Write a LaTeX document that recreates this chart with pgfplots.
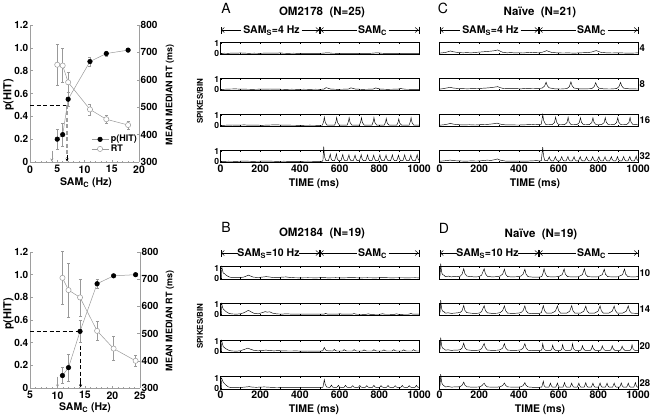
\documentclass[border=0pt]{standalone}
\usepackage{fontspec}
\setmainfont{TeX Gyre Heros}
\usepackage{pgfplots}
\pgfplotsset{compat=1.18}
\usetikzlibrary{arrows.meta}
\definecolor{axg}{gray}{0.62}
\definecolor{lng}{gray}{0.6}
\newcommand{\tfont}{\bfseries\fontsize{10.5}{11}\selectfont}
\tikzset{rlab/.style={anchor=west, font=\bfseries\fontsize{9.5}{10}\selectfont, inner sep=1.5pt}}
\pgfplotsset{
 strip/.style={scale only axis, width=198.5pt, height=12.6pt, xmin=0, xmax=1000, ymin=-0.1, ymax=1.17,
   clip=false, xtick={0,100,...,1000}, xticklabels={}, ytick={0,1}, tick align=inside,
   major tick length=1.8pt, tick style={black,line width=0.4pt}, axis line style={line width=0.5pt},
   yticklabel style={font=\bfseries\fontsize{8.5}{9}\selectfont, inner sep=1.2pt},
   ytick pos=left, xtick pos=both, /pgf/number format/assume math mode=true},
 striplast/.style={xticklabels={0,,200,,400,,600,,800,,1000}, xticklabel style={font=\tfont, inner sep=2pt}},
 nolab/.style={ytick=\empty},
 trace/.style={black, line width=0.45pt, mark=none},
 lp/.style={scale only axis, width=109pt, height=137pt, clip=false, axis line style={axg, -, line width=0.6pt},
   tick style={axg, line width=0.5pt}, tick align=inside, major tick length=2.5pt, minor tick length=1.5pt,
   ticklabel style={font=\tfont}, yticklabel style={font=\bfseries\fontsize{10}{10}\selectfont, inner sep=1.5pt},
   /pgf/number format/assume math mode=true},
 hit/.style={lng, line width=0.5pt, mark=*, mark size=2.3pt, mark options={fill=black, draw=black, solid}},
 rt/.style={lng, line width=0.5pt, mark=*, mark size=2.6pt, mark options={fill=white, draw=lng, solid}},
}
\newcommand{\samrow}[6]{%
\begin{scope}[shift={(#1pt,-#2pt)}, line width=0.5pt]
\draw[{Bar[width=7pt]Straight Barb[length=3pt,width=5pt]}-] (0pt,0pt) -- (#5pt,0pt);
\node[anchor=base, inner sep=0pt, font=\bfseries\fontsize{10.5}{11}\selectfont] at (#4pt,-3.7pt) {SAM\textsubscript{S}=#3};
\draw[-{Straight Barb[length=3pt,width=5pt]Bar[width=7pt]}] (#6pt,0pt) -- (99.25pt,0pt);
\draw[{Bar[width=7pt]Straight Barb[length=3pt,width=5pt]}-] (99.25pt,0pt) -- (136pt,0pt);
\node[anchor=base, inner sep=0pt, font=\bfseries\fontsize{10.5}{11}\selectfont] at (152pt,-3.7pt) {SAM\textsubscript{C}};
\draw[-{Straight Barb[length=3pt,width=5pt]Bar[width=7pt]}] (168pt,0pt) -- (198.5pt,0pt);
\end{scope}}
\begin{document}
\begin{tikzpicture}
% ================= LEFT TOP =================
\begin{axis}[lp, at={(30pt,-162pt)}, anchor=south west, xmin=0, xmax=20, ymin=0, ymax=1.2,
  axis x line*=bottom, axis y line*=left, xtick={0,5,10,15,20}, minor x tick num=4,
  ytick={0,0.2,0.4,0.6,0.8,1}, yticklabels={0,0.2,0.4,0.6,0.8,1.0}]
\addplot[black, line width=0.7pt, dash pattern=on 4pt off 2.5pt] coordinates {(0,0.5) (6.8,0.5)};
\addplot[axg, line width=1.4pt, dash pattern=on 4pt off 2.5pt] coordinates {(6.8,0.5) (6.8,0.04)};
\draw[-{Stealth[length=3pt,width=3pt]}, black, line width=0.4pt] (axis cs:6.8,0.06) -- (axis cs:6.8,0.005);
\draw[-{Stealth[length=3pt,width=3pt]}, lng, line width=0.5pt] (axis cs:4,0.1) -- (axis cs:4,0.005);
\addplot[hit, error bars/.cd, y dir=both, y explicit, error bar style={lng, line width=0.5pt}, error mark options={rotate=90, mark size=1.5pt, lng}]
 coordinates {(5,0.20) +- (0,0.09) (6,0.24) +- (0,0.1) (7,0.55) +- (0,0.06) (11,0.88) +- (0,0.04) (14,0.95) +- (0,0.02) (18,0.98) +- (0,0.01)};
\end{axis}
\begin{axis}[lp, at={(30pt,-162pt)}, anchor=south west, xmin=0, xmax=20, ymin=300, ymax=800,
  axis x line=none, axis y line*=right, ytick={300,400,...,800},
  legend style={at={(1,0.05)}, anchor=south east, draw=none, fill=none, font=\bfseries\fontsize{9}{9}\selectfont, inner sep=0pt, row sep=-2.5pt, legend cell align=left},
  legend image code/.code={\draw[mark repeat=2,mark phase=2,#1] plot coordinates {(0pt,0pt) (8.5pt,0pt) (17pt,0pt)};}]
\addlegendimage{hit}
\addlegendentry{p(HIT)}
\addplot[rt, error bars/.cd, y dir=both, y explicit, error bar style={lng, line width=0.5pt}, error mark options={rotate=90, mark size=1.5pt, lng}]
 coordinates {(5,655) +- (0,74) (6,652) +- (0,62) (7,591) +- (0,35) (11,492) +- (0,20) (14,456) +- (0,14) (18,435) +- (0,14)};
\addlegendentry{RT}
\end{axis}
\node[rotate=90, font=\bfseries\fontsize{11}{11}\selectfont] at (8.5pt,-95pt) {p(HIT)};
\node[rotate=90, font=\bfseries\fontsize{9}{9}\selectfont] at (170pt,-95pt) {MEAN MEDIAN RT (ms)};
\node[font=\bfseries\fontsize{10.5}{11}\selectfont] at (86pt,-183pt) {SAM\textsubscript{C} (Hz)};
\draw[axg, line width=0.5pt] (30pt,-25pt) -- (32.5pt,-25pt);
\node[anchor=east, inner sep=1.5pt, font=\bfseries\fontsize{10}{10}\selectfont] at (30pt,-25pt) {1.2};
% ================= LEFT BOTTOM =================
\begin{axis}[lp, at={(30pt,-388pt)}, anchor=south west, height=136pt, width=110pt, xmin=5, xmax=25, ymin=0, ymax=1.2001,
  axis x line*=bottom, axis y line*=left, xtick={5,10,15,20,25}, minor x tick num=4,
  ytick={0,0.2,0.4,0.6,0.8,1,1.2}, yticklabels={0,0.2,0.4,0.6,0.8,1.0,1.2}]
\addplot[black, line width=0.7pt, dash pattern=on 4pt off 2.5pt] coordinates {(5,0.5) (14.2,0.5) (14.2,0.04)};
\draw[-{Stealth[length=3pt,width=3pt]}, black, line width=0.4pt] (axis cs:14.2,0.06) -- (axis cs:14.2,0.005);
\draw[-{Stealth[length=3pt,width=3pt]}, lng, line width=0.5pt] (axis cs:10,0.1) -- (axis cs:10,0.005);
\addplot[hit, error bars/.cd, y dir=both, y explicit, error bar style={lng, line width=0.5pt}, error mark options={rotate=90, mark size=1.5pt, lng}]
 coordinates {(10.9,0.11) +- (0,0.07) (12,0.18) +- (0,0.12) (14.1,0.50) +- (0,0.1) (17.2,0.92) +- (0,0.04) (20.2,0.99) +- (0,0.01) (24.2,1.0) +- (0,0.01)};
\end{axis}
\begin{axis}[lp, at={(30pt,-388pt)}, anchor=south west, height=136pt, width=110pt, xmin=5, xmax=25, ymin=300, ymax=800,
  axis x line=none, axis y line*=right, ytick={300,400,...,800}]
\addplot[rt, error bars/.cd, y dir=both, y explicit, error bar style={lng, line width=0.5pt}, error mark options={rotate=90, mark size=1.5pt, lng}]
 coordinates {(10.9,705) +- (0,97) (12,660) +- (0,100) (14.1,633) +- (0,68) (17.2,510) +- (0,35) (20.2,445) +- (0,44) (24.2,400) +- (0,20)};
\end{axis}
\node[rotate=90, font=\bfseries\fontsize{11}{11}\selectfont] at (8.5pt,-314pt) {p(HIT)};
\node[rotate=90, font=\bfseries\fontsize{9}{9}\selectfont] at (170pt,-321pt) {MEAN MEDIAN RT (ms)};
\node[font=\bfseries\fontsize{10.5}{11}\selectfont] at (85pt,-408pt) {SAM\textsubscript{C} (Hz)};
% ================= PANEL A =================
\node[font=\fontsize{14}{14}\selectfont] at (226pt,-8pt) {A};
\node[font=\bfseries\fontsize{11.5}{12}\selectfont] at (322pt,-12pt) {OM2178~~(N=25)};
\samrow{220.5}{30}{4 Hz}{51}{20}{81}
\node[rotate=90, font=\bfseries\fontsize{8}{8}\selectfont] at (200pt,-101pt) {SPIKES/BIN};
\begin{axis}[strip, at={(220.5pt,-42pt)}, anchor=north west]
\addplot[trace] coordinates {(0,0.02)(20,0.04)(40,0.03)(60,0.05)(80,0.04)(100,0.07)(115,0.05)(140,0.03)(170,0.04)(200,0.03)(230,0.05)(260,0.04)(290,0.05)(300,0.08)(312,0.04)(340,0.03)(370,0.04)(400,0.02)(430,0.03)(460,0.02)(490,0.03)(515,0.04)(530,0.07)(545,0.08)(560,0.04)(590,0.03)(620,0.02)(650,0.03)(680,0.02)(710,0.03)(740,0.02)(765,0.04)(780,0.07)(795,0.08)(810,0.04)(840,0.02)(870,0.03)(900,0.02)(930,0.03)(960,0.02)(1000,0.03)};
\end{axis}
\begin{axis}[strip, at={(220.5pt,-78pt)}, anchor=north west]
\addplot[trace] coordinates {(0,0.02)(25,0.04)(50,0.06)(75,0.07)(100,0.05)(130,0.04)(160,0.03)(190,0.04)(220,0.05)(250,0.06)(275,0.05)(300,0.04)(330,0.03)(360,0.04)(390,0.03)(420,0.04)(450,0.03)(480,0.04)(505,0.03)(522,0.06)(532,0.2)(540,0.15)(555,0.05)(590,0.03)(620,0.04)(645,0.06)(657,0.18)(666,0.13)(680,0.05)(715,0.03)(745,0.04)(770,0.06)(782,0.17)(791,0.12)(805,0.05)(840,0.03)(870,0.04)(895,0.05)(907,0.12)(916,0.08)(930,0.04)(965,0.03)(1000,0.03)};
\end{axis}
\begin{axis}[strip, at={(220.5pt,-114pt)}, anchor=north west]
\addplot[trace] coordinates {(0,0.02)(30,0.04)(60,0.06)(90,0.05)(120,0.07)(150,0.04)(180,0.05)(210,0.03)(250,0.06)(280,0.08)(310,0.05)(350,0.04)(400,0.03)(450,0.04)(500,0.03)
(513,0.04)(520,0.45)(523,0.85)(528,0.3)(537,0.05)
(575,0.04)(582,0.45)(585,0.82)(590,0.3)(599,0.05)
(638,0.04)(645,0.45)(648,0.8)(653,0.3)(662,0.05)
(700,0.04)(707,0.45)(710,0.8)(715,0.3)(724,0.05)
(763,0.04)(770,0.45)(773,0.82)(778,0.3)(787,0.05)
(825,0.04)(832,0.4)(835,0.72)(840,0.25)(849,0.05)
(888,0.04)(895,0.38)(898,0.68)(903,0.25)(912,0.05)
(950,0.04)(957,0.45)(960,0.8)(965,0.3)(974,0.05)(1000,0.04)};
\end{axis}
\begin{axis}[strip, striplast, at={(220.5pt,-150pt)}, anchor=north west]
\addplot[trace] coordinates {(0,0.02)(40,0.04)(80,0.03)(120,0.05)(160,0.03)(200,0.04)(240,0.05)(280,0.03)(320,0.04)(360,0.02)(400,0.03)(440,0.04)(480,0.03)(512,0.03)
(516,0.1)(520,1.5)(524,0.5)(531,0.1)
(544,0.1)(553,0.75)(557,0.3)(563,0.1)
(575,0.1)(584,0.78)(588,0.3)(594,0.1)
(607,0.1)(616,0.72)(620,0.3)(626,0.1)
(638,0.1)(647,0.68)(651,0.3)(657,0.1)
(669,0.1)(678,0.65)(682,0.3)(688,0.1)
(700,0.1)(709,0.7)(713,0.3)(719,0.1)
(732,0.1)(741,0.68)(745,0.3)(751,0.1)
(763,0.1)(772,0.65)(776,0.3)(782,0.1)
(794,0.1)(803,0.68)(807,0.3)(813,0.1)
(825,0.1)(834,0.66)(838,0.3)(844,0.1)
(857,0.1)(866,0.68)(870,0.3)(876,0.1)
(888,0.1)(897,0.65)(901,0.3)(907,0.1)
(919,0.1)(928,0.68)(932,0.3)(938,0.1)
(950,0.1)(959,0.66)(963,0.3)(969,0.1)
(982,0.1)(991,0.7)(995,0.3)(1000,0.12)};
\end{axis}
\node[font=\tfont] at (314pt,-184pt) {TIME (ms)};
% ================= PANEL C =================
\node[font=\fontsize{14}{14}\selectfont] at (443pt,-8pt) {C};
\node[font=\bfseries\fontsize{11.5}{12}\selectfont] at (540pt,-12pt) {Naïve~~(N=21)};
\samrow{439.5}{30}{4 Hz}{51}{20}{81}
\begin{axis}[strip, nolab, at={(439.5pt,-42pt)}, anchor=north west]
\addplot[trace] coordinates {(0,0.05)(15,0.08)(30,0.12)(45,0.2)(55,0.27)(65,0.2)(80,0.15)(100,0.1)(120,0.08)(140,0.1)(160,0.07)(180,0.12)(200,0.15)(220,0.18)(240,0.22)(260,0.25)(280,0.3)(293,0.37)(305,0.25)(320,0.12)(340,0.08)(360,0.1)(380,0.07)(400,0.09)(420,0.06)(440,0.1)(460,0.12)(480,0.1)(500,0.08)(515,0.12)(530,0.22)(540,0.3)(550,0.22)(565,0.12)(590,0.08)(620,0.06)(650,0.07)(680,0.05)(710,0.08)(740,0.1)(765,0.15)(780,0.25)(790,0.3)(800,0.22)(815,0.12)(840,0.08)(870,0.06)(900,0.08)(930,0.06)(960,0.05)(1000,0.07)};
\node[rlab] at (rel axis cs:1,0.5) {4};
\end{axis}
\begin{axis}[strip, nolab, at={(439.5pt,-78pt)}, anchor=north west]
\addplot[trace] coordinates {(0,0.05)(20,0.1)(40,0.18)(55,0.22)(70,0.16)(90,0.12)(110,0.1)(140,0.08)(170,0.1)(200,0.12)(230,0.15)(260,0.2)(280,0.26)(293,0.3)(305,0.2)(320,0.12)(350,0.09)(380,0.1)(410,0.08)(440,0.12)(470,0.14)(500,0.12)
(517,0.15)(529,0.35)(537,0.75)(543,0.4)(552,0.18)(580,0.08)(610,0.06)(642,0.1)(654,0.3)(662,0.78)(668,0.4)(677,0.16)(705,0.08)(735,0.07)(767,0.1)(779,0.3)(787,0.7)(793,0.38)(802,0.15)(830,0.07)(860,0.06)(892,0.1)(904,0.3)(912,0.72)(918,0.38)(927,0.15)(955,0.08)(1000,0.06)};
\node[rlab] at (rel axis cs:1,0.5) {8};
\end{axis}
\begin{axis}[strip, nolab, at={(439.5pt,-114pt)}, anchor=north west]
\addplot[trace] coordinates {(0,0.04)(20,0.08)(40,0.15)(55,0.22)(70,0.15)(90,0.1)(120,0.07)(150,0.09)(180,0.06)(210,0.1)(240,0.12)(270,0.18)(290,0.25)(305,0.15)(330,0.08)(360,0.07)(400,0.06)(440,0.09)(470,0.12)(500,0.1)
(513,0.15)(520,1.1)(525,0.5)(535,0.12)
(567,0.1)(579,0.3)(585,0.85)(590,0.35)(599,0.12)
(630,0.1)(642,0.3)(648,0.85)(653,0.35)(662,0.12)
(692,0.1)(704,0.3)(710,0.8)(715,0.35)(724,0.12)
(755,0.1)(767,0.3)(773,0.78)(778,0.35)(787,0.12)
(817,0.1)(829,0.3)(835,0.8)(840,0.35)(849,0.12)
(880,0.1)(892,0.3)(898,0.8)(903,0.35)(912,0.12)
(942,0.1)(954,0.3)(960,0.82)(965,0.35)(974,0.12)(1000,0.08)};
\node[rlab] at (rel axis cs:1,0.5) {16};
\end{axis}
\begin{axis}[strip, nolab, striplast, at={(439.5pt,-150pt)}, anchor=north west]
\addplot[trace] coordinates {(0,0.04)(20,0.07)(40,0.12)(55,0.15)(70,0.1)(100,0.07)(130,0.05)(160,0.07)(190,0.06)(220,0.1)(240,0.15)(260,0.12)(280,0.2)(292,0.27)(305,0.15)(330,0.06)(360,0.05)(400,0.06)(440,0.05)(470,0.08)(490,0.1)(505,0.06)
(513,0.1)(520,1.45)(524,0.6)(530,0.12)
(544,0.08)(553,0.48)(557,0.22)(563,0.08)
(575,0.08)(584,0.5)(588,0.22)(594,0.08)
(607,0.08)(616,0.5)(620,0.22)(626,0.08)
(638,0.08)(647,0.52)(651,0.22)(657,0.08)
(669,0.08)(678,0.5)(682,0.22)(688,0.08)
(700,0.08)(709,0.5)(713,0.22)(719,0.08)
(732,0.08)(741,0.48)(745,0.22)(751,0.08)
(763,0.08)(772,0.5)(776,0.22)(782,0.08)
(794,0.08)(803,0.5)(807,0.22)(813,0.08)
(825,0.08)(834,0.48)(838,0.22)(844,0.08)
(857,0.08)(866,0.5)(870,0.22)(876,0.08)
(888,0.08)(897,0.5)(901,0.22)(907,0.08)
(919,0.08)(928,0.52)(932,0.22)(938,0.08)
(950,0.08)(959,0.52)(963,0.22)(969,0.08)
(982,0.08)(991,0.55)(995,0.22)(1000,0.1)};
\node[rlab] at (rel axis cs:1,0.5) {32};
\end{axis}
\node[font=\tfont] at (535pt,-184pt) {TIME (ms)};
% ================= PANEL B =================
\node[font=\fontsize{14}{14}\selectfont] at (226pt,-227pt) {B};
\node[font=\bfseries\fontsize{11.5}{12}\selectfont] at (322pt,-233pt) {OM2184~~(N=19)};
\samrow{220.5}{253}{10 Hz}{48}{17.5}{78.5}
\node[rotate=90, font=\bfseries\fontsize{8}{8}\selectfont] at (200pt,-326pt) {SPIKES/BIN};
\begin{axis}[strip, at={(220.5pt,-266.5pt)}, anchor=north west]
\addplot[trace] coordinates {(0,0.0)(4,0.05)(7,1.1)(10,0.8)(14,0.5)(20,0.45)(28,0.3)(40,0.15)(55,0.06)(80,0.04)(100,0.05)(120,0.12)(135,0.25)(142,0.3)(150,0.22)(165,0.1)(190,0.06)(210,0.1)(230,0.15)(245,0.12)(265,0.06)(290,0.05)(310,0.1)(330,0.12)(345,0.08)(370,0.04)(400,0.03)(440,0.04)(480,0.03)(520,0.05)(540,0.03)(580,0.04)(620,0.03)(660,0.05)(700,0.03)(740,0.04)(780,0.03)(820,0.05)(860,0.03)(900,0.04)(940,0.03)(980,0.04)(1000,0.03)};
\end{axis}
\begin{axis}[strip, at={(220.5pt,-303pt)}, anchor=north west]
\addplot[trace] coordinates {(0,0.0)(4,0.05)(7,1.05)(10,0.75)(14,0.55)(20,0.45)(28,0.3)(40,0.15)(55,0.07)(80,0.05)(100,0.08)(120,0.2)(135,0.38)(142,0.42)(152,0.3)(170,0.12)(190,0.08)(210,0.2)(225,0.3)(235,0.25)(248,0.28)(262,0.15)(285,0.07)(310,0.05)(330,0.08)(350,0.06)(380,0.04)(420,0.05)(460,0.04)(500,0.04)
(520,0.04)(530,0.12)(540,0.04)(591,0.04)(601,0.1)(611,0.04)(663,0.04)(673,0.11)(683,0.04)(734,0.03)(744,0.08)(754,0.03)(806,0.04)(816,0.09)(826,0.04)(877,0.03)(887,0.08)(897,0.03)(949,0.04)(959,0.12)(969,0.04)(1000,0.04)};
\end{axis}
\begin{axis}[strip, at={(220.5pt,-340pt)}, anchor=north west]
\addplot[trace] coordinates {(0,0.0)(4,0.05)(7,1.05)(10,0.75)(14,0.5)(20,0.4)(28,0.28)(40,0.15)(55,0.07)(80,0.05)(100,0.08)(120,0.22)(138,0.35)(150,0.25)(170,0.12)(190,0.08)(210,0.12)(230,0.15)(250,0.1)(270,0.08)(290,0.1)(320,0.07)(350,0.06)(380,0.07)(410,0.05)(440,0.06)(470,0.05)(505,0.06)
(515,0.08)(523,0.42)(530,0.15)(540,0.08)
(565,0.06)(573,0.22)(579,0.1)(587,0.06)
(615,0.06)(623,0.2)(629,0.1)(637,0.06)
(665,0.06)(673,0.2)(679,0.1)(687,0.06)
(715,0.06)(723,0.18)(729,0.1)(737,0.06)
(765,0.06)(773,0.2)(779,0.1)(787,0.06)
(815,0.06)(823,0.18)(829,0.1)(837,0.06)
(865,0.06)(873,0.2)(879,0.1)(887,0.06)
(915,0.06)(923,0.18)(929,0.1)(937,0.06)
(965,0.06)(973,0.2)(979,0.1)(987,0.06)(1000,0.06)};
\end{axis}
\begin{axis}[strip, striplast, at={(220.5pt,-376.5pt)}, anchor=north west]
\addplot[trace] coordinates {(0,0.0)(4,0.05)(7,0.95)(10,0.75)(14,0.6)(20,0.45)(28,0.3)(40,0.12)(55,0.05)(80,0.04)(110,0.08)(130,0.12)(145,0.15)(160,0.1)(180,0.08)(200,0.1)(220,0.12)(240,0.1)(260,0.07)(290,0.06)(320,0.05)(360,0.04)(400,0.04)(440,0.05)(480,0.04)(510,0.05)
(516,0.1)(523,0.85)(527,0.4)(535,0.1)
(551,0.07)(559,0.3)(564,0.12)(571,0.07)
(586,0.07)(594,0.28)(599,0.12)(606,0.07)
(622,0.07)(630,0.28)(635,0.12)(642,0.07)
(658,0.07)(666,0.25)(671,0.12)(678,0.07)
(694,0.07)(702,0.27)(707,0.12)(714,0.07)
(729,0.07)(737,0.25)(742,0.12)(749,0.07)
(765,0.07)(773,0.28)(778,0.12)(785,0.07)
(801,0.07)(809,0.25)(814,0.12)(821,0.07)
(836,0.07)(844,0.27)(849,0.12)(856,0.07)
(872,0.07)(880,0.25)(885,0.12)(892,0.07)
(908,0.07)(916,0.27)(921,0.12)(928,0.07)
(943,0.07)(951,0.25)(956,0.12)(963,0.07)
(979,0.07)(987,0.28)(992,0.12)(1000,0.07)};
\end{axis}
\node[font=\tfont] at (314pt,-410pt) {TIME (ms)};
% ================= PANEL D =================
\node[font=\fontsize{14}{14}\selectfont] at (444pt,-228pt) {D};
\node[font=\bfseries\fontsize{11.5}{12}\selectfont] at (541pt,-234pt) {Naïve~~(N=19)};
\samrow{439.5}{253}{10 Hz}{48}{17.5}{78.5}
\begin{axis}[strip, nolab, at={(439.5pt,-266.5pt)}, anchor=north west]
\addplot[trace] coordinates {(0,0.1)(3,0.3)(6,1.45)(9,0.9)(12,0.5)(16,0.35)(22,0.3)(30,0.15)(45,0.2)(60,0.12)(75,0.18)(90,0.15)(105,0.2)(114,0.4)(122,0.95)(128,0.45)(138,0.2)(160,0.15)(180,0.12)(200,0.15)(212,0.3)(225,0.95)(231,0.45)(241,0.18)(265,0.12)(290,0.15)(305,0.2)(318,0.4)(327,0.9)(333,0.4)(343,0.15)(370,0.12)(395,0.15)(410,0.2)(421,0.4)(430,0.9)(436,0.4)(446,0.15)(470,0.1)(500,0.1)(515,0.15)(520,0.4)(527,0.95)(533,0.45)(543,0.15)(570,0.12)(600,0.15)(618,0.35)(628,0.92)(634,0.4)(645,0.15)(670,0.12)(700,0.14)(720,0.35)(730,0.95)(736,0.4)(747,0.15)(775,0.12)(800,0.14)(820,0.35)(830,0.9)(836,0.4)(847,0.15)(875,0.12)(900,0.14)(922,0.35)(932,0.92)(938,0.4)(949,0.15)(975,0.12)(1000,0.15)};
\node[rlab] at (rel axis cs:1,0.5) {10};
\end{axis}
\begin{axis}[strip, nolab, at={(439.5pt,-303pt)}, anchor=north west]
\addplot[trace] coordinates {(0,0.1)(3,0.3)(6,1.45)(9,0.9)(12,0.5)(16,0.35)(22,0.3)(30,0.15)(45,0.18)(60,0.12)(75,0.15)(90,0.18)(105,0.22)(114,0.4)(122,0.92)(128,0.42)(138,0.2)(160,0.14)(180,0.12)(200,0.15)(212,0.3)(225,0.9)(231,0.42)(241,0.18)(265,0.12)(290,0.14)(305,0.2)(318,0.4)(327,0.88)(333,0.4)(343,0.15)(370,0.12)(395,0.15)(410,0.2)(421,0.4)(430,0.88)(436,0.4)(446,0.15)(470,0.1)(500,0.1)
(513,0.2)(523,0.9)(529,0.4)(539,0.15)(565,0.15)(584,0.35)(594,0.88)(600,0.4)(610,0.15)(640,0.14)(656,0.35)(666,0.9)(672,0.4)(682,0.15)(710,0.14)(727,0.35)(737,0.85)(743,0.4)(753,0.15)(780,0.14)(799,0.35)(809,0.88)(815,0.4)(825,0.15)(852,0.14)(870,0.35)(880,0.85)(886,0.4)(896,0.15)(922,0.14)(941,0.35)(951,0.88)(957,0.4)(967,0.15)(1000,0.12)};
\node[rlab] at (rel axis cs:1,0.5) {14};
\end{axis}
\begin{axis}[strip, nolab, at={(439.5pt,-340pt)}, anchor=north west]
\addplot[trace] coordinates {(0,0.1)(3,0.3)(6,1.4)(9,0.9)(12,0.5)(16,0.35)(22,0.28)(30,0.15)(45,0.18)(60,0.12)(75,0.15)(90,0.15)(105,0.2)(114,0.38)(122,0.85)(128,0.4)(138,0.18)(160,0.13)(180,0.12)(200,0.15)(212,0.3)(225,0.82)(231,0.4)(241,0.16)(265,0.12)(290,0.14)(305,0.18)(318,0.35)(327,0.8)(333,0.38)(343,0.15)(370,0.12)(395,0.14)(410,0.18)(421,0.35)(430,0.8)(436,0.38)(446,0.14)(470,0.1)(500,0.1)(512,0.12)
(516,0.25)(520,0.8)(525,0.3)(534,0.12)
(560,0.12)(566,0.28)(570,0.65)(575,0.3)(584,0.12)
(610,0.12)(616,0.28)(620,0.7)(625,0.3)(634,0.12)
(660,0.12)(666,0.28)(670,0.8)(675,0.3)(684,0.12)
(710,0.12)(716,0.28)(720,0.6)(725,0.3)(734,0.12)
(760,0.12)(766,0.28)(770,0.62)(775,0.3)(784,0.12)
(810,0.12)(816,0.28)(820,0.58)(825,0.3)(834,0.12)
(860,0.12)(866,0.28)(870,0.6)(875,0.3)(884,0.12)
(910,0.12)(916,0.28)(920,0.55)(925,0.3)(934,0.12)
(960,0.12)(966,0.28)(970,0.68)(975,0.3)(984,0.12)(1000,0.12)};
\node[rlab] at (rel axis cs:1,0.5) {20};
\end{axis}
\begin{axis}[strip, nolab, striplast, at={(439.5pt,-376.5pt)}, anchor=north west]
\addplot[trace] coordinates {(0,0.1)(3,0.3)(6,1.4)(9,0.9)(12,0.5)(16,0.35)(22,0.25)(30,0.12)(45,0.16)(60,0.1)(75,0.12)(90,0.12)(105,0.16)(114,0.3)(122,0.6)(128,0.3)(138,0.14)(160,0.1)(180,0.1)(200,0.12)(212,0.22)(225,0.5)(231,0.28)(241,0.12)(265,0.1)(290,0.1)(305,0.14)(318,0.25)(327,0.52)(333,0.28)(343,0.12)(370,0.1)(395,0.1)(410,0.14)(421,0.25)(430,0.55)(436,0.28)(446,0.12)(470,0.08)(500,0.08)(512,0.1)
(515,0.1)(523,0.7)(527,0.25)(533,0.1)
(551,0.1)(559,0.5)(563,0.25)(569,0.1)
(586,0.1)(594,0.5)(598,0.25)(604,0.1)
(622,0.1)(630,0.55)(634,0.25)(640,0.1)
(658,0.1)(666,0.5)(670,0.25)(676,0.1)
(694,0.1)(702,0.5)(706,0.25)(712,0.1)
(729,0.1)(737,0.55)(741,0.25)(747,0.1)
(765,0.1)(773,0.5)(777,0.25)(783,0.1)
(801,0.1)(809,0.52)(813,0.25)(819,0.1)
(836,0.1)(844,0.5)(848,0.25)(854,0.1)
(872,0.1)(880,0.5)(884,0.25)(890,0.1)
(908,0.1)(916,0.52)(920,0.25)(926,0.1)
(943,0.1)(951,0.5)(955,0.25)(961,0.1)
(979,0.1)(987,0.55)(991,0.25)(997,0.1)(1000,0.1)};
\node[rlab] at (rel axis cs:1,0.5) {28};
\end{axis}
\node[font=\tfont] at (540pt,-410pt) {TIME (ms)};
\pgfresetboundingbox
\path[use as bounding box] (0pt,0pt) rectangle (653pt,-416pt);
\end{tikzpicture}
\end{document}
